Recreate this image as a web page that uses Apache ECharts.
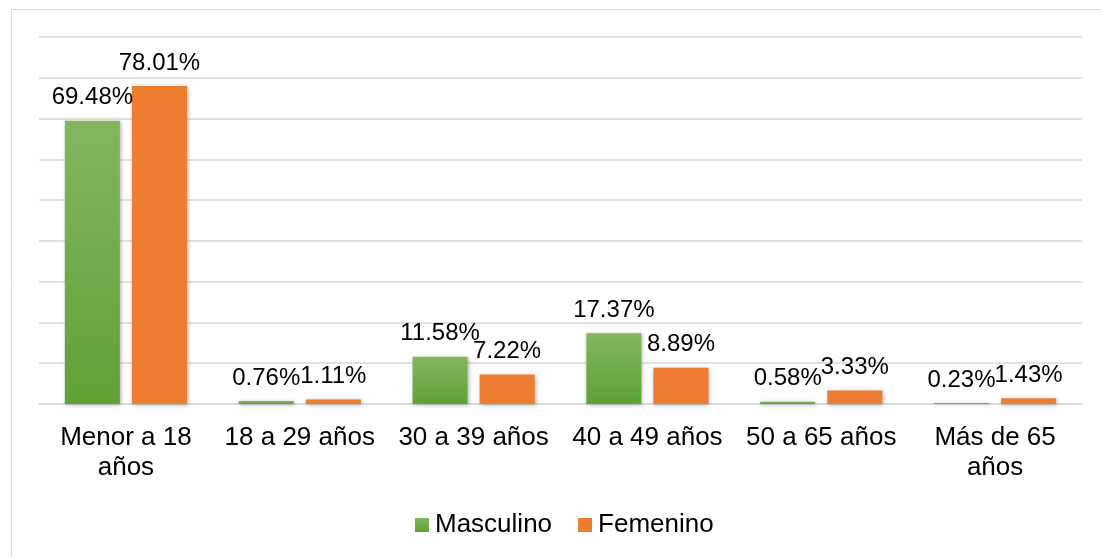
<!DOCTYPE html>
<html>
<head>
<meta charset="utf-8">
<script src="https://cdn.jsdelivr.net/npm/echarts@6/dist/echarts.min.js"></script>
<style>html,body{margin:0;padding:0;background:#fff}#c{width:1101px;height:557px}</style>
</head>
<body>
<div id="c"></div>
<script>
var categories = ['Menor a 18\naños', '18 a 29 años', '30 a 39 años', '40 a 49 años', '50 a 65 años', 'Más de 65\naños'];
var masculino = [69.48, 0.76, 11.58, 17.37, 0.58, 0.23];
var femenino = [78.01, 1.11, 7.22, 8.89, 3.33, 1.43];
var seriesNames = ['Masculino', 'Femenino'];

var chart = echarts.init(document.getElementById('c'), null, {renderer: 'canvas'});
var font = 'Liberation Sans, Arial, sans-serif';
var labelCfg = {
  show: true, position: 'top', distance: 11,
  color: '#000', fontFamily: font, fontSize: 24,
  formatter: function (p) { return p.value.toFixed(2) + '%'; }
};
chart.setOption({
  animation: false,
  backgroundColor: '#fff',
  graphic: [{
    type: 'rect', left: 9, top: 7, shape: {width: 1300, height: 700},
    style: {fill: 'none', stroke: '#d9d9d9', lineWidth: 1}, z: -1
  }],
  grid: {left: 39, right: 19, top: 37, bottom: 153, containLabel: false},
  legend: {
    left: 410, top: 507, itemWidth: 14, itemHeight: 14, itemGap: 26,
    icon: 'rect',
    textStyle: {color: '#000', fontFamily: font, fontSize: 26, padding: [0, 0, 0, 1]},
    data: seriesNames
  },
  xAxis: {
    type: 'category', data: categories,
    axisLine: {lineStyle: {color: '#d9d9d9', width: 1.5}},
    axisTick: {show: false},
    axisLabel: {color: '#000', fontFamily: font, fontSize: 26, lineHeight: 30, margin: 19, interval: 0}
  },
  yAxis: {
    type: 'value', min: 0, max: 90, interval: 10,
    axisLabel: {show: false}, axisLine: {show: false}, axisTick: {show: false},
    splitLine: {lineStyle: {color: '#d9d9d9', width: 1.5}}
  },
  series: [{
    name: seriesNames[0], type: 'bar', data: masculino, barWidth: 55, barGap: '22%',
    itemStyle: {
      color: new echarts.graphic.LinearGradient(0, 0, 0, 1, [
        {offset: 0, color: '#82b75e'}, {offset: 1, color: '#5fa136'}
      ]),
      shadowColor: 'rgba(0,0,0,0.3)', shadowBlur: 4, shadowOffsetX: 1, shadowOffsetY: 1
    },
    label: labelCfg
  }, {
    name: seriesNames[1], type: 'bar', data: femenino, barWidth: 55,
    itemStyle: {
      color: '#ed7d31',
      shadowColor: 'rgba(0,0,0,0.3)', shadowBlur: 4, shadowOffsetX: 1, shadowOffsetY: 1
    },
    label: labelCfg
  }]
});
</script>
</body>
</html>
